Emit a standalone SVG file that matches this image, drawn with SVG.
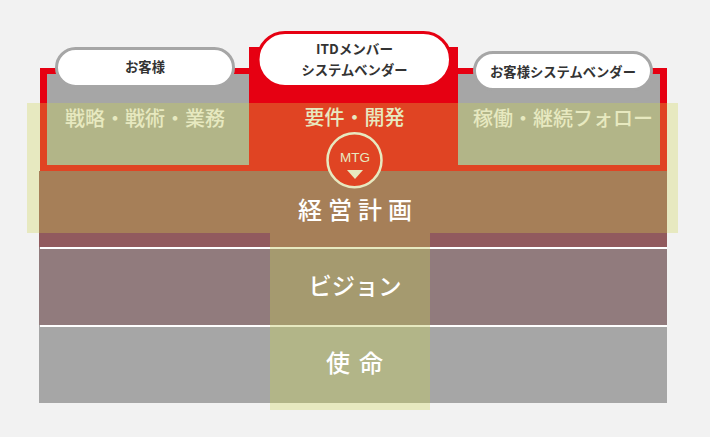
<svg xmlns="http://www.w3.org/2000/svg" width="710" height="437" viewBox="0 0 710 437">
<style>
text{font-family:"Noto Sans CJK JP","Noto Sans",sans-serif;text-anchor:middle}
.pale{fill:#e7e9c0}
.col{font-size:20px;fill:#e7e9c0;font-weight:500}
.big{font-size:24px;fill:#fff;font-weight:500}
.pilltext{font-size:13.300px;fill:#333;font-weight:700}
.pill{fill:#fff;stroke-width:3}
</style>
<rect width="710" height="437" fill="#f2f2f2"/>
<g id="background-bands">
<path d="M40 68H249V47H458V68H667V171H40Z" fill="#e60012"/>
<rect x="47" y="74" width="202" height="91" fill="#a6a6a6"/>
<rect x="458" y="74" width="202" height="91" fill="#a6a6a6"/>
<rect x="27" y="103" width="651" height="130" class="pale"/>
<rect x="40" y="103" width="627" height="68" fill="#e04423"/>
<rect x="47" y="103" width="202" height="62" fill="#b2b588"/>
<rect x="458" y="103" width="202" height="62" fill="#b2b588"/>
<rect x="39" y="171" width="628" height="62" fill="#a67f58"/>
<rect x="39" y="233" width="628" height="14" fill="#915a5e"/>
<rect x="39" y="247" width="628" height="78" fill="#917b7d"/>
<rect x="39" y="325" width="628" height="78" fill="#a6a6a6"/>
<rect x="270" y="233" width="160" height="14" fill="#a67f58"/>
<rect x="270" y="247" width="160" height="78" fill="#a59a6f"/>
<rect x="270" y="325" width="160" height="78" fill="#b2b588"/>
<rect x="270" y="403" width="160" height="7" class="pale"/>
<rect x="40" y="247" width="627" height="2" fill="#fff"/>
<rect x="40" y="325" width="627" height="2" fill="#fff"/>
<rect x="270" y="247" width="160" height="2" class="pale"/>
<rect x="270" y="325" width="160" height="2" class="pale"/>
</g>
<g id="connectors"/>
<g id="pill-customer">
<rect x="56.500" y="48.500" width="177" height="38" rx="19" class="pill" stroke="#a6a6a6"/>
<text x="145" y="72" class="pilltext">お客様</text>
</g>
<g id="pill-itd">
<rect x="258" y="32.500" width="192.500" height="54" rx="27" class="pill" stroke="#e60012"/>
<text x="354.500" y="54" class="pilltext" style="font-size:13.600px">ITDメンバー</text>
<text x="354.500" y="75" class="pilltext">システムベンダー</text>
</g>
<g id="pill-vendor">
<rect x="474.500" y="52.500" width="177" height="37" rx="18.500" class="pill" stroke="#a6a6a6"/>
<text x="563" y="77" class="pilltext">お客様システムベンダー</text>
</g>
<g id="label-strategy"><text x="145" y="126" class="col">戦略・戦術・業務</text></g>
<g id="label-requirements"><text x="354.500" y="125" class="col">要件・開発</text></g>
<g id="label-operation"><text x="563" y="126" class="col">稼働・継続フォロー</text></g>
<g id="mtg">
<circle cx="354.500" cy="160.300" r="27" fill="#e04423" stroke="#e7e9c0" stroke-width="2.500"/>
<text x="355" y="162" font-size="13.500" fill="#e7e9c0" style="font-family:'Liberation Sans','Noto Sans',sans-serif">MTG</text>
<polygon points="347,170 363,170 355,179" class="pale"/>
</g>
<g id="label-plan"><text x="358" y="219" class="big" style="letter-spacing:6px">経営計画</text></g>
<g id="label-vision"><text x="355" y="295" class="big" style="font-size:23.300px">ビジョン</text></g>
<g id="label-mission"><text x="359" y="372" class="big" style="letter-spacing:9px">使命</text></g>
</svg>
